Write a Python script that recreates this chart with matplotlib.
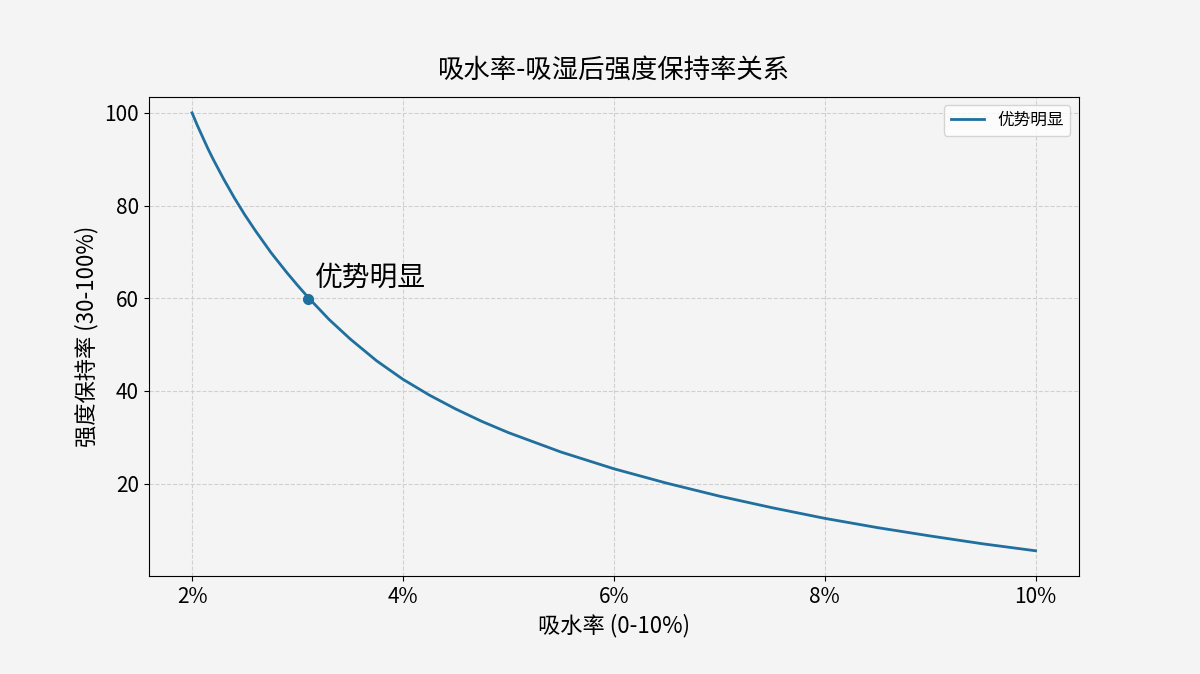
import matplotlib.pyplot as plt

plt.rcParams['font.family'] = ['Noto Sans CJK SC', 'DejaVu Sans']

x = [2.0, 2.05, 2.1, 2.15, 2.2, 2.3, 2.4, 2.5, 2.6, 2.75, 2.9, 3.0, 3.1, 3.3, 3.5, 3.75, 4.0, 4.25,
     4.5, 4.75, 5.0, 5.5, 6.0, 6.5, 7.0, 7.5, 8.0, 8.5, 9.0, 9.5, 10.0]
y = [100, 97.3, 94.8, 92.3, 90, 85.7, 81.7, 78, 74.6, 69.8, 65.5, 62.8, 60.2, 55.4, 51.2, 46.5, 42.5, 39.1,
     36.1, 33.4, 31, 26.8, 23.2, 20.1, 17.3, 14.8, 12.5, 10.5, 8.7, 7.0, 5.5]
point_x, point_y = 3.1, 59.8
xticks = [2, 4, 6, 8, 10]
xticklabels = ['2%', '4%', '6%', '8%', '10%']

fig, ax = plt.subplots(figsize=(12, 6.74), dpi=100)
fig.patch.set_facecolor('#f4f4f4')
ax.set_facecolor('#f4f4f4')

ax.plot(x, y, color='#1f6f9f', lw=2.0, label='优势明显')
ax.plot(point_x, point_y, 'o', color='#1f6f9f', ms=7)
ax.text(point_x + 0.07, point_y + 3, '优势明显', fontsize=20)

ax.set_xlim(1.59, 10.41)
ax.set_ylim(0, 103.4)
ax.set_xticks(xticks)
ax.set_xticklabels(xticklabels)
ax.set_yticks([20, 40, 60, 80, 100])
ax.tick_params(labelsize=15)
ax.grid(True, ls='--', color='#d0d0d0', lw=0.8)

ax.set_title('吸水率-吸湿后强度保持率关系', fontsize=19, pad=14)
ax.set_xlabel('吸水率 (0-10%)', fontsize=16)
ax.set_ylabel('强度保持率 (30-100%)', fontsize=16)
ax.legend(loc='upper right', fontsize=12, facecolor='white')

plt.subplots_adjust(left=0.124, right=0.899, top=0.856, bottom=0.145)
fig.savefig('out.png')
